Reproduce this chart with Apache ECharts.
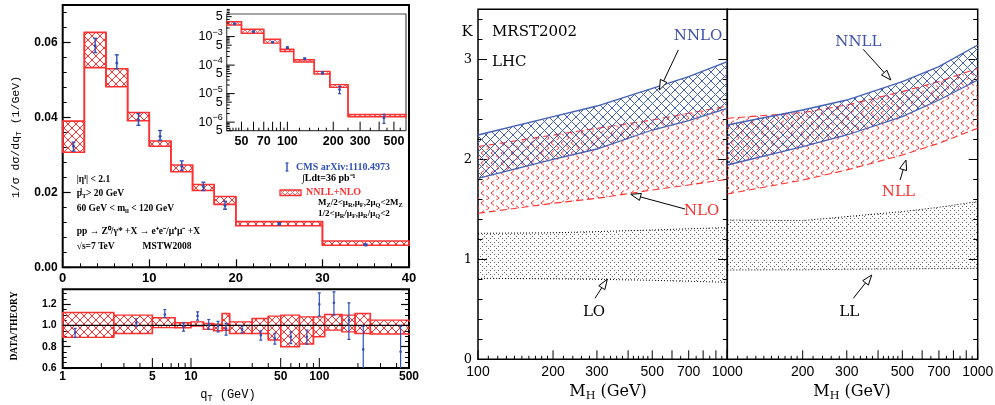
<!DOCTYPE html>
<html>
<head>
<meta charset="utf-8">
<title>Z boson qT spectrum and Higgs K-factors</title>
<script src="https://cdn.jsdelivr.net/npm/echarts@6/dist/echarts.min.js"></script>
<style>
html, body { margin: 0; padding: 0; background: #fff; }
#chart { width: 995px; height: 405px; }
</style>
</head>
<body>
<div id="chart"></div>
<script>
// ---------- Z -> l+l- transverse momentum spectrum, 0 < qT < 40 GeV ----------
const qtEdges  = [0, 2.5, 5, 7.5, 10, 12.5, 15, 17.5, 20, 30, 40];
const qtBandLo = [0.0307, 0.0533, 0.0482, 0.0391, 0.0323, 0.0255, 0.0205, 0.0168, 0.0111, 0.0059];
const qtBandHi = [0.0390, 0.0627, 0.0530, 0.0413, 0.0337, 0.0273, 0.0221, 0.0189, 0.0122, 0.0070];
const cmsQt    = [1.25, 3.75, 6.25, 8.75, 11.25, 13.75, 16.25, 18.75, 25, 35];
const cmsVal   = [0.0323, 0.0591, 0.0545, 0.0393, 0.0350, 0.0270, 0.0216, 0.0165, 0.0116, 0.0060];
const cmsErrLo = [0.0310, 0.0573, 0.0530, 0.0379, 0.0339, 0.0259, 0.0205, 0.0155, 0.0113, 0.0058];
const cmsErrHi = [0.0334, 0.0611, 0.0567, 0.0410, 0.0365, 0.0284, 0.0227, 0.0176, 0.0119, 0.0062];

// ---------- high-qT tail (log-log inset) ----------
const tailEdges  = [40, 50, 70, 90, 110, 150, 190, 250, 600];
const tailBandLo = [2.56e-3, 1.31e-3, 5.9e-4, 3.0e-4, 1.28e-4, 4.9e-5, 1.66e-5, 1.55e-6];
const tailBandHi = [3.30e-3, 1.81e-3, 8.1e-4, 3.6e-4, 1.54e-4, 6.0e-5, 2.07e-5, 1.86e-6];
const tailQt     = [45, 60, 80, 100, 130, 170, 220, 430];
const tailVal    = [2.8e-3, 1.49e-3, 6.4e-4, 4.1e-4, 1.67e-4, 5.4e-5, 1.38e-5, 1.4e-6];
const tailErrLo  = [2.65e-3, 1.42e-3, 6.1e-4, 3.85e-4, 1.58e-4, 4.9e-5, 1.0e-5, 9.1e-7];
const tailErrHi  = [2.95e-3, 1.56e-3, 6.7e-4, 4.35e-4, 1.76e-4, 5.9e-5, 1.8e-5, 1.86e-6];

// ---------- data / theory ----------
const ratioEdges  = [1, 2.5, 5, 7.5, 10, 12.5, 15, 17.5, 20, 30, 40, 50, 70, 90, 110, 150, 190, 250, 600];
const ratioBandLo = [0.888, 0.925, 0.980, 0.978, 0.994, 0.963, 0.950, 0.955, 0.925, 0.925, 0.863, 0.800, 0.825, 0.894, 0.956, 0.940, 0.925, 0.919];
const ratioBandHi = [1.122, 1.097, 1.072, 1.025, 1.034, 1.019, 1.013, 1.113, 1.034, 1.066, 1.088, 1.097, 1.081, 1.081, 1.103, 1.097, 1.113, 1.050];
const ratioQt     = [1.25, 3.75, 6.25, 8.75, 11.25, 13.75, 16.25, 18.75, 25, 35, 45, 60, 80, 100, 130, 170, 220, 430];
const ratioVal    = [0.931, 1.025, 1.103, 0.988, 1.090, 1.009, 0.994, 0.972, 0.963, 0.909, 0.878, 0.894, 0.894, 1.200, 1.213, 1.050, 0.775, 0.753];
const ratioErrLo  = [0.888, 0.994, 1.075, 0.947, 1.050, 0.963, 0.940, 0.909, 0.931, 0.863, 0.825, 0.830, 0.825, 1.088, 1.097, 0.869, 0.550, 0.500];
const ratioErrHi  = [0.972, 1.063, 1.150, 1.025, 1.128, 1.056, 1.038, 1.019, 0.994, 0.950, 0.925, 0.940, 0.956, 1.306, 1.316, 1.213, 0.994, 0.994];
const ratioUnity  = 1;

// ---------- Higgs K-factors at the LHC (MRST2002) ----------
const mH     = [100, 200, 300, 500, 700, 1000];
const loLo   = [0.810, 0.805, 0.800, 0.790, 0.780, 0.770];
const loHi   = [1.260, 1.265, 1.277, 1.293, 1.305, 1.317];
const nloLo  = [1.460, 1.560, 1.610, 1.693, 1.743, 1.800];
const nloHi  = [2.127, 2.243, 2.310, 2.393, 2.460, 2.533];
const nnloLo = [1.810, 2.000, 2.103, 2.293, 2.387, 2.510];
const nnloHi = [2.243, 2.427, 2.533, 2.710, 2.827, 2.977];
const llLo   = [0.893, 0.895, 0.900, 0.905, 0.907, 0.910];
const llHi   = [1.393, 1.387, 1.427, 1.477, 1.520, 1.577];
const nllLo  = [1.653, 1.793, 1.893, 2.043, 2.160, 2.310];
const nllHi  = [2.410, 2.467, 2.543, 2.677, 2.777, 2.910];
const nnllLo = [1.943, 2.127, 2.243, 2.427, 2.593, 2.793];
const nnllHi = [2.343, 2.493, 2.593, 2.777, 2.927, 3.143];

// ---------- tick labels for the logarithmic axes ----------
const ratioTickLabels = [1, 5, 10, 50, 100, 500];
const ratioMinorTicks = [2, 3, 4, 6, 7, 8, 9, 20, 30, 40, 60, 70, 80, 90, 200, 300, 400];
const tailTickLabels  = [50, 70, 100, 200, 300, 500];
const tailMajorTicks  = [50, 60, 70, 80, 90, 100, 200, 300, 400, 500];
const tailMinorTicks  = [42, 44, 46, 48, 55, 65, 75, 85, 95, 120, 140, 160, 180, 250, 350, 450, 550];
const tailYDecades    = [-6, -5, -4, -3];
const tailYFives      = [5e-7, 5e-6, 5e-5, 5e-4, 5e-3];
const mhTickLabelsL   = [100, 200, 300, 500, 700, 1000];
const mhTickLabelsR   = [200, 300, 500, 700, 1000];
const mhMajorTicks    = [100, 200, 300, 400, 500, 600, 700, 800, 900, 1000];
const mhMinorTicks    = [110, 120, 130, 140, 150, 160, 170, 180, 190, 220, 240, 260, 280,
                         320, 340, 360, 380, 420, 440, 460, 480, 550, 650, 750, 850, 950];

// ---------- annotations on the K-factor panels ----------
const RED = '#ff3030', BLUE_PT = '#2f4fb5', BLUE_BAND = '#4561b4', BLUE_TXT = '#3b50a6';
const notesLeft = [
  { text: 'NNLO', color: BLUE_TXT, at: [763, 3.233], from: [636, 3.093], to: [534, 2.693] },
  { text: 'NLO',  color: RED,      at: [789, 1.486], from: [677, 1.503], to: [410, 1.650] },
  { text: 'LO',   color: '#000',   at: [292, 0.476], from: [294.5, 0.61], to: [330, 0.80] }
];
const notesRight = [
  { text: 'NNLL', color: BLUE_TXT, at: [334, 3.176], from: [349, 3.10], to: [450, 2.793] },
  { text: 'NLL',  color: RED,      at: [482, 1.676], from: [490, 1.793], to: [517, 1.993] },
  { text: 'LL',   color: '#000',   at: [307, 0.476], from: [318.7, 0.61], to: [377.5, 0.843] }
];

const SANS  = '"Liberation Sans", Arial, sans-serif';
const SERIF = '"DejaVu Serif", serif';
const TIMES = '"Liberation Serif", serif';
const MONO  = '"Liberation Mono", monospace';

// ---------- fill patterns ----------
function makePattern(size, draw) {
  const c = document.createElement('canvas');
  c.width = size; c.height = size;
  const g = c.getContext('2d');
  draw(g, size);
  return { image: c, repeat: 'repeat' };
}
function crossHatch(size, color, lw) {
  return makePattern(size, (g, s) => {
    g.strokeStyle = color; g.lineWidth = lw;
    g.beginPath();
    for (const o of [-s, 0, s]) {
      g.moveTo(o - 1, -1); g.lineTo(o + s + 1, s + 1);
      g.moveTo(o + s + 1, -1); g.lineTo(o - 1, s + 1);
    }
    g.stroke();
  });
}
const redCross   = crossHatch(8, RED, 1);
const redCrossSm = crossHatch(5, '#ff6060', 1);
const blueCross  = crossHatch(9, BLUE_BAND, 1);
const redChevron = makePattern(10, (g) => {
  g.strokeStyle = RED; g.lineWidth = 1;
  g.beginPath();
  g.moveTo(4, 0.5); g.lineTo(1, 3); g.lineTo(4, 5.5);
  g.moveTo(6, 5.5); g.lineTo(9, 8); g.lineTo(6, 10.5);
  g.stroke();
});
const dotCross = makePattern(8, (g) => {
  g.fillStyle = 'rgba(0,0,0,0.6)';
  for (const [x, y] of [[0, 0], [2, 2], [4, 4], [6, 6], [2, 6], [6, 2]]) g.fillRect(x, y, 1, 1);
});

// ---------- series builders ----------
function stepBand(edges, lo, hi, xIdx, yIdx, fill, lw, clip) {
  return {
    type: 'custom', xAxisIndex: xIdx, yAxisIndex: yIdx, clip: !!clip, silent: true, z: 2,
    data: lo.map((v, i) => [edges[i], v, edges[i + 1], hi[i]]),
    renderItem(params, api) {
      const i = params.dataIndex;
      const a = api.coord([api.value(0), api.value(3)]);
      const b = api.coord([api.value(2), api.value(1)]);
      const ch = [{
        type: 'rect', shape: { x: a[0], y: a[1], width: b[0] - a[0], height: b[1] - a[1] },
        style: { fill: fill, stroke: RED, lineWidth: lw }
      }];
      if (i + 1 < lo.length) {
        const e = edges[i + 1];
        const t0 = api.coord([e, hi[i]]), t1 = api.coord([e, hi[i + 1]]);
        const u0 = api.coord([e, lo[i]]), u1 = api.coord([e, lo[i + 1]]);
        ch.push({ type: 'line', shape: { x1: t0[0], y1: t0[1], x2: t1[0], y2: t1[1] }, style: { stroke: RED, lineWidth: lw } });
        ch.push({ type: 'line', shape: { x1: u0[0], y1: u0[1], x2: u1[0], y2: u1[1] }, style: { stroke: RED, lineWidth: lw } });
      }
      return { type: 'group', children: ch };
    }
  };
}

function errorBars(xs, val, lo, hi, xIdx, yIdx, cap, r, lw, clip) {
  return {
    type: 'custom', xAxisIndex: xIdx, yAxisIndex: yIdx, clip: !!clip, silent: true, z: 4,
    data: xs.map((x, i) => [x, val[i], lo[i], hi[i]]),
    renderItem(params, api) {
      const x = api.value(0);
      const p = api.coord([x, api.value(1)]);
      const pl = api.coord([x, api.value(2)]);
      const ph = api.coord([x, api.value(3)]);
      const st = { stroke: BLUE_PT, lineWidth: lw };
      return {
        type: 'group', children: [
          { type: 'line', shape: { x1: p[0], y1: ph[1], x2: p[0], y2: pl[1] }, style: st },
          { type: 'line', shape: { x1: p[0] - cap, y1: ph[1], x2: p[0] + cap, y2: ph[1] }, style: st },
          { type: 'line', shape: { x1: p[0] - cap, y1: pl[1], x2: p[0] + cap, y2: pl[1] }, style: st },
          { type: 'circle', shape: { cx: p[0], cy: p[1], r: r }, style: { fill: BLUE_PT } }
        ]
      };
    }
  };
}

function kBand(xs, lo, hi, xIdx, yIdx, fill, edge, z) {
  return {
    type: 'custom', xAxisIndex: xIdx, yAxisIndex: yIdx, silent: true, z: z,
    data: xs.map((x, k) => [x, lo[k], hi[k]]),
    renderItem(params, api) {
      if (params.dataIndex !== 0) return null;
      const top = xs.map((x, k) => api.coord([x, hi[k]]));
      const bot = xs.map((x, k) => api.coord([x, lo[k]]));
      return {
        type: 'group', children: [
          { type: 'polygon', shape: { points: top.concat(bot.slice().reverse()) }, style: { fill: fill } },
          { type: 'polyline', shape: { points: top }, style: Object.assign({ fill: null }, edge) },
          { type: 'polyline', shape: { points: bot }, style: Object.assign({ fill: null }, edge) }
        ]
      };
    }
  };
}

function noteSeries(notes, xIdx, yIdx) {
  return {
    type: 'custom', xAxisIndex: xIdx, yAxisIndex: yIdx, silent: true, z: 6,
    data: notes.map(n => n.to),
    renderItem(params, api) {
      const n = notes[params.dataIndex];
      const p0 = api.coord(n.from), p1 = api.coord(n.to), pt = api.coord(n.at);
      const dx = p1[0] - p0[0], dy = p1[1] - p0[1];
      const L = Math.hypot(dx, dy), ux = dx / L, uy = dy / L;
      const h = 10, w = 3.6;
      const bx = p1[0] - ux * h, by = p1[1] - uy * h;
      return {
        type: 'group', children: [
          { type: 'line', shape: { x1: p0[0], y1: p0[1], x2: bx, y2: by }, style: { stroke: '#000', lineWidth: 1 } },
          { type: 'polygon', shape: { points: [[p1[0], p1[1]], [bx - uy * w, by + ux * w], [bx + uy * w, by - ux * w]] },
            style: { fill: '#fff', stroke: '#000', lineWidth: 1 } },
          { type: 'text', x: pt[0], y: pt[1],
            style: { text: n.text, fill: n.color, fontFamily: SERIF, fontSize: 15, align: 'center', verticalAlign: 'middle' } }
        ]
      };
    }
  };
}

// ticks: [value, length, label]
function xTicks(xIdx, yIdx, yBase, ticks, font, gap) {
  return {
    type: 'custom', xAxisIndex: xIdx, yAxisIndex: yIdx, silent: true, z: 7,
    data: ticks.map(t => [t[0], yBase]),
    renderItem(params, api) {
      const t = ticks[params.dataIndex];
      const p = api.coord([api.value(0), yBase]);
      const ch = [{ type: 'line', shape: { x1: p[0], y1: p[1], x2: p[0], y2: p[1] - t[1] }, style: { stroke: '#000', lineWidth: 1 } }];
      if (t[2] != null) {
        ch.push({ type: 'text', x: p[0], y: p[1] + gap,
          style: Object.assign({ text: String(t[2]), fill: '#000', align: 'center', verticalAlign: 'top' }, font) });
      }
      return { type: 'group', children: ch };
    }
  };
}
function yTicks(xIdx, yIdx, xBase, ticks, font, gap) {
  return {
    type: 'custom', xAxisIndex: xIdx, yAxisIndex: yIdx, silent: true, z: 7,
    data: ticks.map(t => [xBase, t[0]]),
    renderItem(params, api) {
      const t = ticks[params.dataIndex];
      const p = api.coord([xBase, api.value(1)]);
      const ch = [{ type: 'line', shape: { x1: p[0], y1: p[1], x2: p[0] + t[1], y2: p[1] }, style: { stroke: '#000', lineWidth: 1 } }];
      if (t[2] != null) {
        ch.push({ type: 'text', x: p[0] - gap, y: p[1],
          style: Object.assign({ text: t[2], fill: '#000', align: 'right', verticalAlign: 'middle' }, font) });
      }
      return { type: 'group', children: ch };
    }
  };
}

function tickList(majors, majorLen, minors, minorLen, labels) {
  const out = majors.map(v => [v, majorLen, labels.includes(v) ? v : null]);
  minors.forEach(v => out.push([v, minorLen, null]));
  labels.forEach(v => { if (!majors.includes(v)) out.push([v, majorLen, v]); });
  return out;
}

const ratioTicks = tickList(ratioTickLabels, 10, ratioMinorTicks, 5, ratioTickLabels);
const tailXTicks = tickList(tailMajorTicks, 9, tailMinorTicks, 3, tailTickLabels);
const tailYTicks = [];
tailYDecades.forEach(e => {
  tailYTicks.push([Math.pow(10, e), 8, '{n|10}{e|' + String(e).replace('-', '\u2212') + '}']);
  [2, 3, 4, 6, 7, 8, 9].forEach(m => tailYTicks.push([m * Math.pow(10, e), 3, null]));
});
[6, 7, 8, 9].forEach(m => tailYTicks.push([m * 1e-7, 3, null]));
tailYFives.forEach(v => tailYTicks.push([v, 5, '{n|5}']));
const mhTicksL = tickList(mhMajorTicks, 9, mhMinorTicks, 3.5, mhTickLabelsL);
const mhTicksR = tickList(mhMajorTicks, 9, mhMinorTicks, 3.5, mhTickLabelsR);

// ---------- axes ----------
function linAxis(o) {
  return {
    type: 'value', gridIndex: o.grid, position: o.pos, min: o.min, max: o.max, interval: o.interval,
    axisLine: { show: false },
    axisTick: { show: true, inside: true, length: o.tick, lineStyle: { color: '#000', width: o.tw || 1 } },
    axisLabel: o.label ? Object.assign({ show: true, margin: o.margin, formatter: o.fmt,
      showMaxLabel: o.showMax !== false, showMinLabel: true }, o.label) : { show: false },
    splitLine: { show: false }
  };
}
function logAxis(grid, min, max) {
  return {
    type: 'log', logBase: 10, gridIndex: grid, min: min, max: max,
    axisLine: { show: false }, axisTick: { show: false }, axisLabel: { show: false }, splitLine: { show: false }
  };
}

const boldSans = (size) => ({ fontFamily: SANS, fontWeight: 'bold', fontSize: size, color: '#000' });

const xAxes = [
  Object.assign(linAxis({ grid: 0, min: 0, max: 40, interval: 10, tick: 8, tw: 1.2, margin: 5, label: boldSans(13) }),
    { position: 'bottom', minorTick: { show: true, splitNumber: 5, length: 4, lineStyle: { color: '#000', width: 1 } } }),
  logAxis(1, 40, 600),
  logAxis(2, 1, 500),
  logAxis(3, 100, 1000),
  logAxis(4, 100, 1000)
];
const yAxes = [
  linAxis({ grid: 0, pos: 'left', min: 0, max: 0.07, interval: 0.02, tick: 8, tw: 1.2, margin: 5, showMax: false,
    fmt: v => v.toFixed(2), label: boldSans(12) }),                                            // 0
  linAxis({ grid: 0, pos: 'left', min: 0, max: 0.07, interval: 0.004, tick: 4 }),             // 1
  logAxis(1, 5e-7, 6.2e-3),                                                                   // 2
  linAxis({ grid: 2, pos: 'left', min: 0.6, max: 1.34, interval: 0.2, tick: 8, tw: 1.2, margin: 6, showMax: false,
    fmt: v => v.toFixed(1), label: boldSans(10.5) }),                                           // 3
  linAxis({ grid: 2, pos: 'left', min: 0.6, max: 1.34, interval: 0.05, tick: 4 }),            // 4
  linAxis({ grid: 2, pos: 'right', min: 0.6, max: 1.34, interval: 0.2, tick: 8, tw: 1.2 }),   // 5
  linAxis({ grid: 2, pos: 'right', min: 0.6, max: 1.34, interval: 0.05, tick: 4 }),           // 6
  linAxis({ grid: 3, pos: 'left', min: 0, max: 3.5, interval: 1, tick: 9, margin: 6, showMax: false,
    fmt: v => String(Math.round(v)), label: { fontFamily: SERIF, fontSize: 13, color: '#000' } }), // 7
  linAxis({ grid: 3, pos: 'left', min: 0, max: 3.5, interval: 0.2, tick: 4.5 }),              // 8
  linAxis({ grid: 3, pos: 'right', min: 0, max: 3.5, interval: 1, tick: 9 }),                 // 9
  linAxis({ grid: 3, pos: 'right', min: 0, max: 3.5, interval: 0.2, tick: 4.5 }),             // 10
  linAxis({ grid: 4, pos: 'right', min: 0, max: 3.5, interval: 1, tick: 9 }),                 // 11
  linAxis({ grid: 4, pos: 'right', min: 0, max: 3.5, interval: 0.2, tick: 4.5 })              // 12
];
// paired axes on the same side sit on top of each other
yAxes.forEach(a => { if (a.position === 'left' || a.position === 'right') a.offset = 0; });

const grids = [
  { left: 62.7, top: 5, width: 346.3, height: 262.3, borderColor: '#000', borderWidth: 2 },
  { left: 226.7, top: 14, width: 179.3, height: 116.7, borderColor: '#4a4a4a', borderWidth: 1.2, backgroundColor: '#fff' },
  { left: 62.7, top: 289.3, width: 346.3, height: 78.7, borderColor: '#000', borderWidth: 2 },
  { left: 478, top: 9.3, width: 249.3, height: 350, borderColor: '#000', borderWidth: 1.5 },
  { left: 727.3, top: 9.3, width: 250.4, height: 350, borderColor: '#000', borderWidth: 1.5 }
].map(g => Object.assign({ show: true, containLabel: false, outerBoundsMode: 'none' }, g));

// ---------- series ----------
const series = [
  // main qT panel
  stepBand(qtEdges, qtBandLo, qtBandHi, 0, 0, redCross, 1.6, false),
  errorBars(cmsQt, cmsVal, cmsErrLo, cmsErrHi, 0, 0, 2, 1.5, 1.4, false),
  // inset
  stepBand(tailEdges, tailBandLo, tailBandHi, 1, 2, redCrossSm, 1.4, true),
  errorBars(tailQt, tailVal, tailErrLo, tailErrHi, 1, 2, 1.5, 1.4, 1.2, true),
  xTicks(1, 2, 5e-7, tailXTicks, { fontFamily: SANS, fontWeight: 'bold', fontSize: 12.5 }, 4),
  yTicks(1, 2, 40, tailYTicks, { fontFamily: SANS, fontSize: 12,
    rich: { n: { fontFamily: SANS, fontSize: 12.5 }, e: { fontFamily: SANS, fontSize: 9, padding: [0, 0, 9, 0] } } }, 4),
  // ratio panel
  stepBand(ratioEdges, ratioBandLo, ratioBandHi, 2, 3, redCross, 1.4, true),
  {
    type: 'line', xAxisIndex: 2, yAxisIndex: 3, silent: true, z: 3, symbol: 'none',
    data: [[1, ratioUnity], [500, ratioUnity]], lineStyle: { color: '#000', width: 1.2 }
  },
  errorBars(ratioQt, ratioVal, ratioErrLo, ratioErrHi, 2, 3, 1.5, 1.3, 1.2, true),
  xTicks(2, 3, 0.6, ratioTicks, { fontFamily: SANS, fontWeight: 'bold', fontSize: 12 }, 3),
  // K-factor panels: fixed order
  kBand(mH, loLo, loHi, 3, 7, dotCross, { stroke: '#000', lineWidth: 1, lineDash: [1, 2] }, 2),
  kBand(mH, nloLo, nloHi, 3, 7, redChevron, { stroke: RED, lineWidth: 1.1, lineDash: [7, 4] }, 3),
  kBand(mH, nnloLo, nnloHi, 3, 7, blueCross, { stroke: BLUE_BAND, lineWidth: 1.3 }, 4),
  noteSeries(notesLeft, 3, 7),
  xTicks(3, 7, 0, mhTicksL, { fontFamily: SANS, fontSize: 14 }, 6),
  // K-factor panels: resummed
  kBand(mH, llLo, llHi, 4, 11, dotCross, { stroke: '#000', lineWidth: 1, lineDash: [1, 2] }, 2),
  kBand(mH, nllLo, nllHi, 4, 11, redChevron, { stroke: RED, lineWidth: 1.1, lineDash: [7, 4] }, 3),
  kBand(mH, nnllLo, nnllHi, 4, 11, blueCross, { stroke: BLUE_BAND, lineWidth: 1.3 }, 4),
  noteSeries(notesRight, 4, 11),
  xTicks(4, 11, 0, mhTicksR, { fontFamily: SANS, fontSize: 14 }, 6)
];

// ---------- text ----------
function txt(x, y, text, o) {
  return Object.assign({ type: 'text', x: x, y: y, silent: true, z: 100,
    style: Object.assign({ text: text, fill: '#000', align: 'left', verticalAlign: 'middle' }, o || {}) });
}
const noteFont = { fontFamily: TIMES, fontWeight: 'bold', fontSize: 9.5 };
const subRich = (size, fam, weight) => ({
  m: { fontFamily: fam, fontSize: size, fontWeight: weight },
  s: { fontFamily: fam, fontSize: size * 0.7, fontWeight: weight, padding: [size * 0.55, 0, 0, 0] },
  u: { fontFamily: fam, fontSize: size * 0.7, fontWeight: weight, padding: [0, 0, size * 0.55, 0] }
});

const graphics = [
  // main panel titles
  Object.assign(txt(16, 137, '{m|1/σ dσ/dq}{s|T}{m| (1/GeV)}',
    { align: 'center', rich: subRich(11.5, MONO, 'normal') }), { rotation: Math.PI / 2 }),
  Object.assign(txt(15, 326, 'DATA/THEORY',
    { align: 'center', fontFamily: TIMES, fontWeight: 'bold', fontSize: 9.5 }), { rotation: Math.PI / 2 }),
  txt(228, 395, '{m|q}{s|T}{m| (GeV)}', { align: 'center', rich: subRich(12, MONO, 'normal') }),

  // selection cuts and process
  txt(76.7, 179.5, '{m||η}{u|l}{m|| < 2.1}', { rich: subRich(9.5, TIMES, 'bold') }),
  txt(76.7, 194, '{m|p}{s|T}', { rich: subRich(9.5, TIMES, 'bold') }),
  txt(80.3, 190.5, 'l', { fontFamily: TIMES, fontWeight: 'bold', fontSize: 6.5 }),
  txt(86, 194, '> 20 GeV', noteFont),
  txt(76.7, 208.5, '{m|60 GeV < m}{s|ll}{m| < 120 GeV}', { rich: subRich(9.5, TIMES, 'bold') }),
  txt(76.7, 232, 'pp → Z⁰/γ* +X → e⁺e⁻/μ⁺μ⁻ +X', noteFont),
  txt(76.7, 246.5, '√s=7 TeV', noteFont),
  txt(142.5, 246.5, 'MSTW2008', noteFont),

  // legend
  { type: 'line', silent: true, z: 100, shape: { x1: 287, y1: 163, x2: 287, y2: 171 }, style: { stroke: BLUE_PT, lineWidth: 1.4 } },
  { type: 'line', silent: true, z: 100, shape: { x1: 285.5, y1: 163, x2: 288.5, y2: 163 }, style: { stroke: BLUE_PT, lineWidth: 1.2 } },
  { type: 'line', silent: true, z: 100, shape: { x1: 285.5, y1: 171, x2: 288.5, y2: 171 }, style: { stroke: BLUE_PT, lineWidth: 1.2 } },
  txt(296, 167, 'CMS arXiv:1110.4973', { fontFamily: TIMES, fontWeight: 'bold', fontSize: 10, fill: BLUE_PT }),
  txt(302, 178.5, '∫Ldt=36 pb⁻¹', { fontFamily: TIMES, fontWeight: 'bold', fontSize: 10 }),
  { type: 'rect', silent: true, z: 100, shape: { x: 280, y: 190, width: 21, height: 5.5 },
    style: { fill: redCrossSm, stroke: RED, lineWidth: 1.3 } },
  txt(306, 192.8, 'NNLL+NLO', { fontFamily: TIMES, fontWeight: 'bold', fontSize: 10, fill: RED }),
  txt(318, 203, '{m|M}{s|Z}{m|/2<μ}{s|R}{m|,μ}{s|F}{m|,2μ}{s|Q}{m|<2M}{s|Z}', { rich: subRich(9, TIMES, 'bold') }),
  txt(318, 214, '{m|1/2<μ}{s|R}{m|/μ}{s|F}{m|,μ}{s|R}{m|/μ}{s|Q}{m|<2}', { rich: subRich(9, TIMES, 'bold') }),

  // K-factor panels
  txt(467, 32, 'K', { align: 'center', fontFamily: SERIF, fontSize: 15 }),
  txt(492, 32, 'MRST2002', { fontFamily: SERIF, fontSize: 15 }),
  txt(492, 62, 'LHC', { fontFamily: SERIF, fontSize: 15 }),
  txt(608, 392, '{m|M}{s|H}{m| (GeV)}', { align: 'center', rich: subRich(16, SERIF, 'normal') }),
  txt(852, 392, '{m|M}{s|H}{m| (GeV)}', { align: 'center', rich: subRich(16, SERIF, 'normal') })
];

const chart = echarts.init(document.getElementById('chart'), null, { renderer: 'canvas' });
chart.setOption({
  animation: false,
  backgroundColor: '#fff',
  grid: grids,
  xAxis: xAxes,
  yAxis: yAxes,
  series: series,
  graphic: graphics
});
</script>
</body>
</html>
